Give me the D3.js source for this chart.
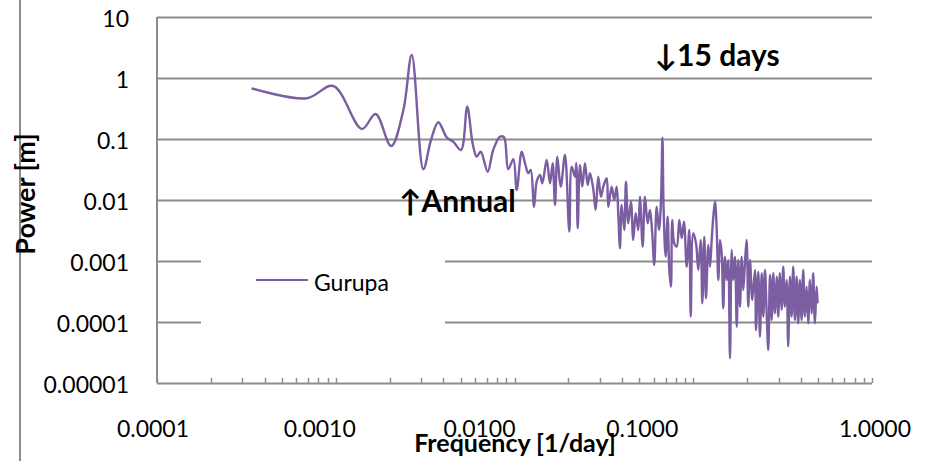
<!DOCTYPE html>
<html><head><meta charset="utf-8">
<script src="https://cdn.jsdelivr.net/npm/d3@7"></script>
<style>body{margin:0;background:#fff} svg{display:block}</style>
</head><body>
<svg id="c" width="926" height="461"></svg>
<script>
// ---- data ----
const freq = [0.000338,0.000687,0.000968,0.00140,0.00167,0.00204,0.00239,0.00266,0.00309,0.00341,
0.00375,0.00417,0.00454,0.00502,0.00544,0.00583,0.00614,0.00647,0.00708,0.00760,
0.00829,0.00873,0.00922,0.00985,0.01029,0.01097,0.01145,0.01194,0.01232,0.01286,
0.01331,0.01389,0.01431,0.01514,0.01580,0.01636,0.01685,0.01736,0.01813,0.01916,
0.02025,0.02089,0.02179,0.02217,0.02257,0.02324,0.02394,0.02479,0.02567,0.02644,
0.02755,0.02845,0.02942,0.03046,0.03138,0.03278,0.03346,0.03496,0.03615,0.03728,
0.03806,0.03890,0.03976,0.04112,0.04203,0.04329,0.04482,0.04617,0.04762,0.04924,
0.05033,0.05211,0.05367,0.05558,0.05724,0.05896,0.0605,0.0624,0.06429,0.06596,
0.06725,0.06828,0.07008,0.0719,0.0734,0.07502,0.07628,0.07828,0.0808,0.08356,
0.08618,0.08876,0.09191,0.09504,0.09677,0.1000,0.1036,0.1067,0.1101,0.1124,
0.1153,0.1178,0.1214,0.1241,0.1268,0.1295,0.1323,0.1353,0.1381,0.1411,
0.1442,0.1472,0.1504,0.1538,0.1570,0.1605,0.1641,0.1675,0.1713,0.1751,
0.1786,0.1826,0.1867,0.1904,0.1946,0.1989,0.2031,0.2076,0.2139,0.2215,
0.2244,0.2311,0.2362,0.2415,0.2465,0.2519,0.2575,0.2629,0.2687,0.2747,
0.2802,0.2866,0.2928,0.2989,0.3054,0.3122,0.3187,0.3257,0.333,0.3398,
0.3474,0.3551,0.3624,0.3705,0.3788,0.3865,0.3951,0.4039,0.4123,0.4214,
0.4308,0.4397,0.4494,0.4594,0.4689,0.4793,0.4899,0.496];
const power = [0.678,0.465,0.739,0.146,0.257,0.0768,0.299,2.38,0.0319,0.0963,
0.188,0.107,0.0904,0.0661,0.338,0.0850,0.0513,0.0619,0.0291,0.0661,
0.109,0.107,0.0319,0.0465,0.0146,0.0619,0.0400,0.0274,0.0311,0.00776,
0.0200,0.0257,0.0188,0.0453,0.0188,0.0400,0.00828,0.0513,0.01655,0.0547,
0.00303,0.0352,0.0241,0.0400,0.00344,0.0375,0.01655,0.0400,0.01764,0.0274,
0.01557,0.00686,0.0241,0.01132,0.01655,0.0227,0.00776,0.01655,0.0100,0.01655,
0.00605,0.00162,0.00828,0.00323,0.0200,0.00415,0.00939,0.00221,0.00605,0.00323,
0.01132,0.00172,0.01132,0.00415,0.00686,0.00285,0.00086,0.00776,0.00323,0.00939,
0.105,0.00686,0.00118,0.00533,0.000759,0.000379,0.0047,0.00195,0.00172,0.0047,
0.00236,0.00441,0.000807,0.00323,0.000123,0.00285,0.00195,0.000712,0.00221,0.000202,
0.0025,0.000245,0.00183,0.000807,0.00221,0.00533,0.00939,0.00323,0.000488,0.00221,
0.00134,0.000168,0.00118,0.000488,0.00104,0.0000255,0.00152,0.000488,0.00118,0.0000838,
0.00104,0.000178,0.00118,0.000335,0.000917,0.00221,0.000178,0.00104,0.00023,0.000712,
0.0000739,0.000667,0.0000574,0.000629,0.000123,0.000712,0.000139,0.0000348,0.00059,0.000108,
0.000629,0.000139,0.000553,0.000123,0.000629,0.000158,0.000807,0.000178,0.000488,0.0000398,
0.000553,0.000123,0.000807,0.000108,0.000553,0.0000952,0.000488,0.000108,0.000712,0.000123,
0.000379,0.0000952,0.000488,0.000139,0.000629,0.0000952,0.000379,0.000202];
const seriesName = "Gurupa";
const xTickValues = [0.0001, 0.001, 0.01, 0.1, 1];
const xTickLabels = ["0.0001", "0.0010", "0.0100", "0.1000", "1.0000"];
const yTickValues = [10, 1, 0.1, 0.01, 0.001, 0.0001, 0.00001];
const yTickLabels = ["10", "1", "0.1", "0.01", "0.001", "0.0001", "0.00001"];
const noteTexts = ["\u219315 days", "\u2191Annual"];
const noteFreq = [0.0608, 0.00226];
const notePower = [1.57, 0.0064];
const xTitle = "Frequency [1/day]";
const yTitle = "Power [m]";

// ---- layout ----
const W = 926, H = 461;
const m = {left: 157, right: 872, top: 17, bottom: 383};
const xLabelNudge = [-4, -16, -35, -51, 3];
const gridColor = "#8c8c8c";
const lineColor = "#7b5ea1";
const FONT = "Lato, 'Open Sans', sans-serif";

const svg = d3.select("#c");
const x = d3.scaleLog().domain([1e-4, 1]).range([m.left, m.right]);
const y = d3.scaleLog().domain([1e-5, 10]).range([m.bottom, m.top]);

// chart border line on the left
svg.append("line").attr("x1", 20).attr("x2", 20).attr("y1", 0).attr("y2", H)
  .attr("stroke", gridColor).attr("stroke-width", 2);

// horizontal gridlines
svg.append("g").selectAll("line").data(yTickValues).join("line")
  .attr("x1", m.left).attr("x2", m.right)
  .attr("y1", d => Math.round(y(d)) + 0.5).attr("y2", d => Math.round(y(d)) + 0.5)
  .attr("stroke", gridColor).attr("stroke-width", 2);

// y axis line
svg.append("line").attr("x1", m.left).attr("x2", m.left).attr("y1", m.top).attr("y2", m.bottom)
  .attr("stroke", gridColor).attr("stroke-width", 2);

// x axis minor ticks (pointing inward)
const minor = [];
for (let e = -4; e < 0; e++) for (let k = 1; k <= 9; k++) minor.push(k * Math.pow(10, e));
minor.push(1);
svg.append("g").selectAll("line").data(minor).join("line")
  .attr("x1", d => Math.round(x(d)) + 0.5).attr("x2", d => Math.round(x(d)) + 0.5)
  .attr("y1", m.bottom).attr("y2", m.bottom - 5)
  .attr("stroke", gridColor).attr("stroke-width", 1.5);

// y tick labels
svg.append("g").selectAll("text").data(yTickValues).join("text")
  .attr("x", 129).attr("y", d => y(d) + 1.5).attr("dy", "0.35em")
  .attr("text-anchor", "end").attr("font-family", FONT).attr("font-size", 23)
  .attr("fill", "#000").text((d, i) => yTickLabels[i]);

// x tick labels
svg.append("g").selectAll("text").data(xTickValues).join("text")
  .attr("x", (d, i) => x(d) + xLabelNudge[i]).attr("y", 437)
  .attr("text-anchor", "middle").attr("font-family", FONT).attr("font-size", 23)
  .attr("fill", "#000").text((d, i) => xTickLabels[i]);

// legend box (white background hides gridlines)
svg.append("rect").attr("x", 201).attr("y", 240).attr("width", 244).attr("height", 100).attr("fill", "#fff");
svg.append("line").attr("x1", 256).attr("x2", 308).attr("y1", 280).attr("y2", 280)
  .attr("stroke", lineColor).attr("stroke-width", 2);
svg.append("text").attr("x", 314).attr("y", 291).attr("font-family", FONT).attr("font-size", 23)
  .attr("fill", "#000").text(seriesName);

// the series
const pts = freq.map((f, i) => [f, power[i]]);
svg.append("path").datum(pts)
  .attr("d", d3.line().x(d => x(d[0])).y(d => y(d[1])).curve(d3.curveCatmullRom.alpha(0.5)))
  .attr("fill", "none").attr("stroke", lineColor).attr("stroke-width", 2.4).attr("stroke-linejoin", "round");

// annotations
svg.append("g").selectAll("text").data(noteTexts).join("text")
  .attr("x", (d, i) => x(noteFreq[i])).attr("y", (d, i) => y(notePower[i]))
  .attr("font-family", FONT).attr("font-weight", "bold").attr("font-size", 30)
  .attr("fill", "#000").text(d => d);

// axis titles
svg.append("text").attr("x", 515).attr("y", 452).attr("text-anchor", "middle")
  .attr("font-family", FONT).attr("font-weight", "bold").attr("font-size", 25)
  .attr("fill", "#000").text(xTitle);
svg.append("text").attr("transform", "translate(35,194) rotate(-90)").attr("text-anchor", "middle")
  .attr("font-family", FONT).attr("font-weight", "bold").attr("font-size", 27)
  .attr("fill", "#000").text(yTitle);
</script>
</body></html>
